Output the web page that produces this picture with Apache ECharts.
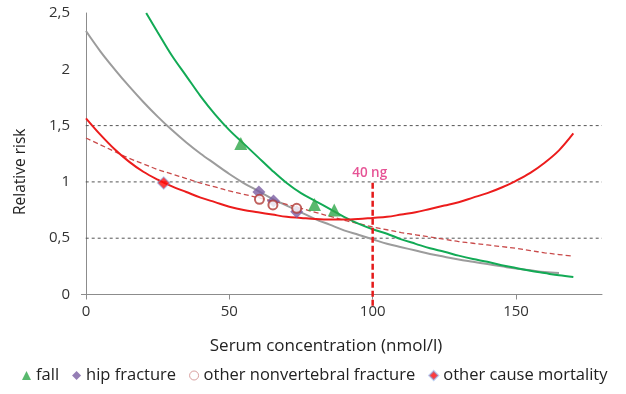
<!DOCTYPE html>
<html>
<head>
<meta charset="utf-8">
<script src="https://cdn.jsdelivr.net/npm/echarts@6/dist/echarts.min.js"></script>
<style>html,body{margin:0;padding:0;background:#fff;}#c{width:626px;height:394px;}</style>
</head>
<body>
<div id="c"></div>
<script>
// ---- data ----
const xTicks = [0, 50, 100, 150];
const yTicks = [0, 0.5, 1, 1.5, 2, 2.5];
const gridLevels = [0.5, 1, 1.5];

const curveX = [0,5,10,15,20,25,30,35,40,45,50,55,60,65,70,75,80,85,90,95,100,105,110,115,120,125,130,135,140,145,150,155,160,165,170];
// gray curve (hip fracture fit)
const hipCurveY = [2.34,2.16,2.00,1.85,1.71,1.58,1.46,1.35,1.25,1.16,1.07,0.99,0.92,0.85,0.79,0.73,0.67,0.62,0.57,0.53,0.49,0.45,0.42,0.39,0.36,0.335,0.31,0.29,0.27,0.25,0.23,0.215,0.20,0.19];
// red solid U curve (other cause mortality fit)
const mortCurveY = [1.565,1.42,1.29,1.18,1.09,1.02,0.96,0.91,0.86,0.82,0.78,0.75,0.73,0.71,0.69,0.68,0.67,0.665,0.665,0.67,0.68,0.69,0.71,0.73,0.76,0.79,0.82,0.86,0.90,0.95,1.01,1.08,1.17,1.28,1.43];
// red dashed curve (other nonvertebral fracture fit)
const nonvertCurveY = [1.39,1.33,1.27,1.21,1.16,1.11,1.07,1.03,0.99,0.955,0.92,0.89,0.86,0.83,0.80,0.765,0.73,0.695,0.66,0.63,0.60,0.575,0.55,0.53,0.51,0.49,0.47,0.455,0.44,0.425,0.41,0.39,0.37,0.355,0.34];
// green curve (fall fit)
const fallCurveX = [21,25,30,35,40,45,50,55,60,65,70,75,80,85,90,95,100,105,110,115,120,125,130,135,140,145,150,155,160,165,170];
const fallCurveY = [2.50,2.33,2.12,1.94,1.76,1.60,1.46,1.34,1.22,1.10,0.99,0.90,0.83,0.76,0.69,0.63,0.58,0.54,0.49,0.45,0.41,0.38,0.345,0.315,0.29,0.26,0.235,0.21,0.19,0.17,0.155];

// study points
const fallX = [54, 79.7, 86.6];
const fallY = [1.34, 0.80, 0.75];
const hipX = [60.3, 65.4, 73.5];
const hipY = [0.91, 0.83, 0.735];
const nonvertX = [60.5, 65.2, 73.5];
const nonvertY = [0.845, 0.795, 0.765];
const mortX = [27.1];
const mortY = [0.99];

// 40 ng threshold line (x, bottom, top)
const thresholdX = 100;
const thresholdY = [-0.1, 1.02];
const thresholdLabel = '40 ng';
// gridline extent in x (slightly left of the axis, like the reference)
const gridXExtent = [-2.2, 180];

const pairs = (xs, ys) => ys.map((y, i) => [xs[i], y]);
const FONT = 'Open Sans';

const gridSeries = gridLevels.map(v => ({
  type: 'line', silent: true, clip: false, showSymbol: false, symbol: 'none', z: 1,
  data: gridXExtent.map(x => [x, v]),
  lineStyle: {color: '#555', type: [3, 3], width: 1}
}));

const curve = (name, xs, ys, lineStyle, z) => ({
  name, type: 'line', smooth: 0.35, showSymbol: false, symbol: 'none', silent: true,
  data: pairs(xs, ys), lineStyle, z
});

const chart = echarts.init(document.getElementById('c'), null, {renderer: 'canvas'});
chart.setOption({
  animation: false,
  backgroundColor: '#fff',
  textStyle: {fontFamily: FONT},
  grid: {left: 86, right: 24, top: 13, bottom: 99.5},
  xAxis: {
    type: 'value', min: 0, max: 180,
    name: 'Serum concentration (nmol/l)',
    nameLocation: 'middle', nameGap: 43,
    nameTextStyle: {fontFamily: FONT, fontSize: 17, color: '#222', padding: [0, 36, 0, 0]},
    axisLine: {show: true, lineStyle: {color: '#8c8c8c', width: 1}},
    axisTick: {show: true, length: 5, lineStyle: {color: '#8c8c8c'}, customValues: xTicks},
    axisLabel: {fontFamily: FONT, fontSize: 15, color: '#333', margin: 10, customValues: xTicks},
    splitLine: {show: false}
  },
  yAxis: {
    type: 'value', min: 0, max: 2.5,
    name: 'Relative risk',
    nameLocation: 'middle', nameGap: 57,
    nameTextStyle: {fontFamily: FONT, fontSize: 15.5, color: '#222', padding: [0, 36, 0, 0]},
    axisLine: {show: true, lineStyle: {color: '#8c8c8c', width: 1}},
    axisTick: {show: true, length: 5, lineStyle: {color: '#8c8c8c'}, customValues: [0]},
    axisLabel: {fontFamily: FONT, fontSize: 15, color: '#333', margin: 16, customValues: yTicks,
      formatter: v => String(v).replace('.', ',')},
    splitLine: {show: false}
  },
  legend: {
    left: 17, top: 362,
    itemWidth: 9, itemHeight: 9, itemGap: 13,
    textStyle: {fontFamily: FONT, fontSize: 16.5, color: '#222'},
    data: [
      {name: 'fall', icon: 'triangle'},
      {name: 'hip fracture', icon: 'diamond'},
      {name: 'other nonvertebral fracture', icon: 'circle', itemStyle: {borderColor: '#d08a88', borderWidth: 1}},
      {name: 'other cause mortality', icon: 'diamond'}
    ]
  },
  series: gridSeries.concat([
    curve('hipCurve', curveX, hipCurveY, {color: '#9c9c9c', width: 2}, 2),
    curve('nonvertCurve', curveX, nonvertCurveY, {color: '#c94a4a', width: 1.3, type: [5, 3]}, 2),
    curve('fallCurve', fallCurveX, fallCurveY, {color: '#12aa55', width: 2}, 3),
    curve('mortCurve', curveX, mortCurveY, {color: '#ec1c1c', width: 2}, 3),
    {name: 'threshold', type: 'line', silent: true, clip: false, showSymbol: false, symbol: 'none', z: 4,
      data: thresholdY.map(y => [thresholdX, y]),
      lineStyle: {color: '#e41b1b', type: [6, 3], width: 2.5}},
    {name: 'thresholdLabel', type: 'scatter', silent: true, symbolSize: 0, z: 4,
      data: [[thresholdX, thresholdY[1]]],
      label: {show: true, position: 'top', distance: -1, formatter: thresholdLabel, color: '#e0287a',
        fontFamily: FONT, fontSize: 13.5, fontWeight: 600, offset: [-3, 0]}},
    {name: 'fall', type: 'scatter', symbol: 'triangle', symbolSize: 13, z: 5,
      data: pairs(fallX, fallY), itemStyle: {color: '#2fa84a'}},
    {name: 'hip fracture', type: 'scatter', symbol: 'diamond', symbolSize: 13, z: 5,
      data: pairs(hipX, hipY), itemStyle: {color: '#7a5ea3'}},
    {name: 'other nonvertebral fracture', type: 'scatter', symbol: 'circle', symbolSize: 9, z: 6,
      data: pairs(nonvertX, nonvertY), itemStyle: {color: '#fff', borderColor: '#b03a36', borderWidth: 2}},
    {name: 'other cause mortality', type: 'scatter', symbol: 'diamond', symbolSize: 12, z: 6,
      data: pairs(mortX, mortY), itemStyle: {color: '#ff0a0a', borderColor: 'rgba(120,160,230,0.6)', borderWidth: 1.5}}
  ])
});
</script>
</body>
</html>
